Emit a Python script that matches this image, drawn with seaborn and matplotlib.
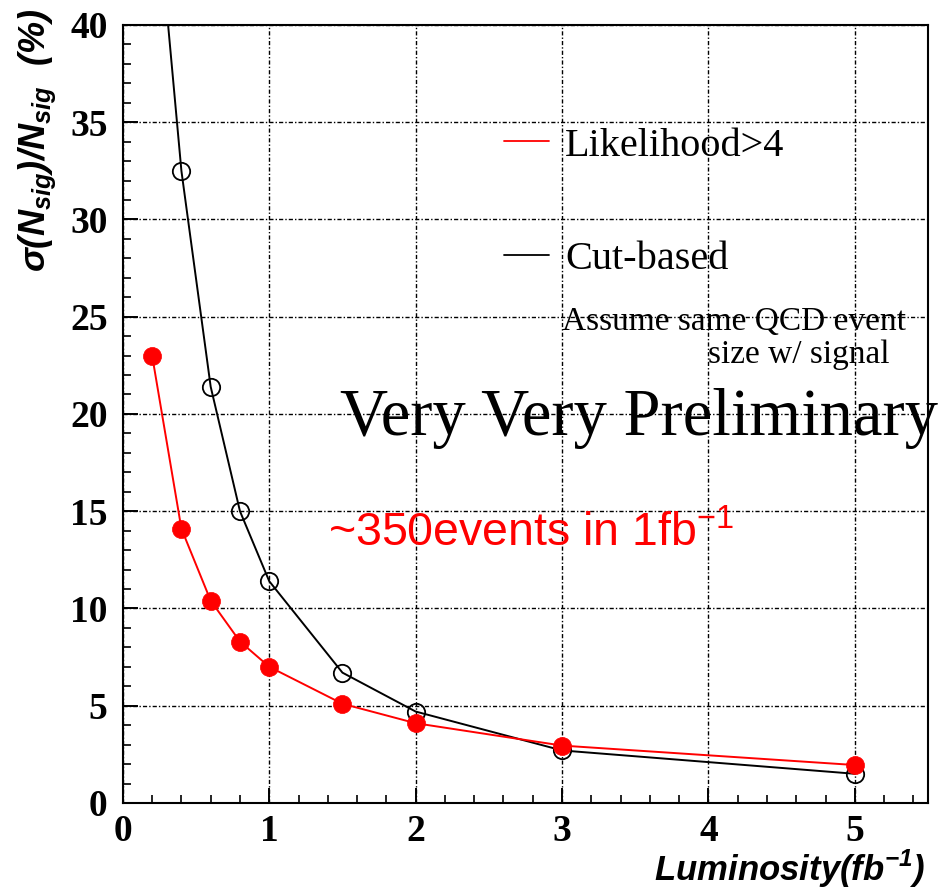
import numpy as np
import pandas as pd
import matplotlib
matplotlib.use("Agg")
import matplotlib.pyplot as plt
import seaborn as sns
from matplotlib.lines import Line2D
from matplotlib.ticker import MultipleLocator

# ---- data ----
lumi_like = [0.2, 0.4, 0.6, 0.8, 1.0, 1.5, 2.0, 3.0, 5.0]
sig_like = [23.0, 14.1, 10.4, 8.3, 7.0, 5.1, 4.1, 2.95, 1.95]
lumi_cut = [0.2, 0.4, 0.6, 0.8, 1.0, 1.5, 2.0, 3.0, 5.0]
sig_cut = [49.0, 32.5, 21.4, 15.0, 11.4, 6.7, 4.7, 2.7, 1.5]
legend_labels = ["Likelihood>4", "Cut-based"]

df_like = pd.DataFrame({"lumi": lumi_like, "sig": sig_like})
df_cut = pd.DataFrame({"lumi": lumi_cut, "sig": sig_cut})

sns.set_style("ticks")
plt.rcParams["font.family"] = ["Liberation Serif", "DejaVu Serif"]
plt.rcParams["text.color"] = "black"
plt.rcParams["axes.labelcolor"] = "black"
plt.rcParams["xtick.color"] = "black"
plt.rcParams["ytick.color"] = "black"

fig = plt.figure(figsize=(9.45, 8.9), dpi=100)
ax = fig.add_axes([0.130, 0.0978, 0.852, 0.8742])

sns.lineplot(data=df_cut, x="lumi", y="sig", ax=ax, color="black", lw=1.4,
             marker="o", markersize=12.5, markerfacecolor="none",
             markeredgecolor="black", markeredgewidth=1.3, sort=False,
             zorder=4)
sns.lineplot(data=df_like, x="lumi", y="sig", ax=ax, color="red", lw=1.4,
             marker="o", markersize=13, markerfacecolor="red",
             markeredgecolor="red", markeredgewidth=0.5, sort=False,
             zorder=5)

ax.set_xlim(0, 5.5)
ax.set_ylim(0, 40)
ax.xaxis.set_major_locator(MultipleLocator(1))
ax.xaxis.set_minor_locator(MultipleLocator(0.2))
ax.yaxis.set_major_locator(MultipleLocator(5))
ax.yaxis.set_minor_locator(MultipleLocator(1))

ax.grid(True, which="major", color="black", lw=1.0,
        linestyle=(0, (3, 1.5, 1, 1.5)), zorder=0)
ax.set_axisbelow(True)

for s in ax.spines.values():
    s.set_linewidth(1.5)
    s.set_color("black")

ax.tick_params(which="major", direction="in", length=11, width=1.4,
               top=False, right=False, labelsize=27, pad=11, color="black",
               labelcolor="black")
ax.tick_params(which="minor", direction="in", length=6, width=1.2,
               top=False, right=False, color="black")
ax.tick_params(axis="x", which="major", pad=8)
for lab in ax.get_xticklabels() + ax.get_yticklabels():
    lab.set_fontweight("bold")
    lab.set_fontfamily("Liberation Serif")

ax.set_xlabel("")
ax.set_ylabel("")

fig.text(0.979, 0.010, "Luminosity(fb$^{\\mathregular{-1}}$)", ha="right",
         va="baseline", fontsize=25, fontweight="bold", style="italic",
         family="Liberation Sans", color="black")
fig.text(0.040, 0.99, "σ(N$_{\\mathregular{sig}}$)/N$_{\\mathregular{sig}}$  (%)",
         ha="center", va="top", rotation=90, fontsize=26, fontweight="bold",
         style="italic", family="Liberation Sans", color="black")

handles = [Line2D([], [], color="red", lw=1.3),
           Line2D([], [], color="black", lw=1.3)]
leg = ax.legend(handles, legend_labels, loc="upper left",
                bbox_to_anchor=(0.454, 0.889), frameon=False,
                handlelength=1.1, handletextpad=0.4, labelspacing=1.9,
                borderaxespad=0, prop={"family": "Liberation Serif", "size": 29})
for t in leg.get_texts():
    t.set_color("black")

ax.text(3.0, 24.3, "Assume same QCD event", fontsize=24,
        family="Liberation Serif", va="baseline", ha="left", zorder=6,
        color="black")
ax.text(4.0, 22.6, "size w/ signal", fontsize=24,
        family="Liberation Serif", va="baseline", ha="left", zorder=6,
        color="black")
ax.text(1.48, 18.9, "Very Very Preliminary", fontsize=48,
        family="Liberation Serif", va="baseline", ha="left", zorder=6,
        clip_on=False, color="black")
ax.text(1.40, 13.2, "~350events in 1fb$^{\\mathregular{-1}}$", fontsize=33.5,
        family="Liberation Sans", color="red", va="baseline", ha="left",
        zorder=6)

fig.savefig("out.png", dpi=100)
